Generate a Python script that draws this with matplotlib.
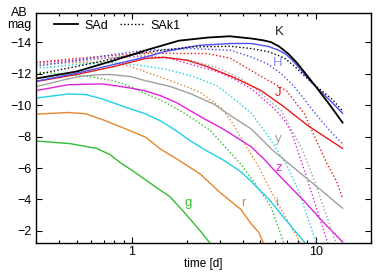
import numpy as np
import matplotlib
matplotlib.use('Agg')
import matplotlib.pyplot as plt
from matplotlib.ticker import FixedLocator, NullFormatter

plt.rcParams['font.family'] = ['Liberation Sans', 'DejaVu Sans']
plt.rcParams['font.size'] = 9

# ---- data: AB magnitude vs time [d], SAd (solid) and SAk1 (dotted) ----
g_sd_t = [0.3, 0.46, 0.64, 0.76, 0.86, 1.0, 1.2, 1.4, 1.6, 1.9, 2.36, 2.75]
g_sd_m = [-7.72, -7.55, -7.25, -6.85, -6.35, -5.85, -5.2, -4.65, -4.2, -3.25, -1.98, -1.0]
r_sd_t = [0.3, 0.45, 0.56, 0.72, 0.93, 1.19, 1.43, 1.83, 2.36, 3.04, 3.92, 4.45, 4.9, 5.3]
r_sd_m = [-9.43, -9.53, -9.45, -9.0, -8.47, -7.95, -7.2, -6.44, -5.6, -4.4, -3.36, -2.45, -1.9, -1.0]
i_sd_t = [0.3, 0.45, 0.56, 0.69, 0.93, 1.17, 1.43, 1.75, 2.08, 2.5, 3.04, 3.3, 3.92, 4.45, 4.9, 5.5, 6.75, 8.8]
i_sd_m = [-10.45, -10.71, -10.67, -10.39, -9.85, -9.47, -9.0, -8.35, -7.72, -7.15, -6.6, -6.35, -5.75, -5.15, -4.65, -4.08, -2.8, -1.2]
z_sd_t = [0.3, 0.45, 0.69, 0.93, 1.17, 1.43, 1.75, 2.08, 2.5, 3.04, 3.7, 4.45, 5.2, 5.95, 7.2, 8.7, 11.0, 14]
z_sd_m = [-10.92, -11.3, -11.35, -11.13, -10.92, -10.6, -10.15, -9.64, -9.1, -8.57, -7.95, -7.35, -6.6, -5.85, -4.85, -3.87, -2.55, -1.3]
y_sd_t = [0.3, 0.354, 0.43, 0.52, 0.63, 0.757, 0.975, 1.18, 1.62, 2.08, 2.8, 3.45, 4.45, 5.9, 8.0, 10.5, 14]
y_sd_m = [-11.18, -11.37, -11.62, -11.82, -11.92, -11.95, -11.82, -11.56, -11.18, -10.73, -10.05, -9.32, -8.49, -7.08, -5.8, -4.67, -3.44]
J_sd_t = [0.3, 0.5, 0.8, 1.0, 1.19, 1.5, 2.0, 2.5, 2.9, 3.6, 4.45, 5.05, 6.6, 9.1, 14]
J_sd_m = [-11.5, -11.95, -12.46, -12.75, -12.97, -13.04, -12.85, -12.5, -12.2, -11.75, -11.24, -10.92, -9.96, -8.68, -7.25]
H_sd_t = [0.3, 0.5, 0.8, 1.19, 1.5, 2.3, 3.5, 4.45, 5.5, 6.2, 6.8, 7.4, 8.0, 8.7, 9.5, 10.8, 12.2, 14]
H_sd_m = [-11.52, -12.03, -12.59, -13.06, -13.4, -13.8, -13.92, -13.92, -13.74, -13.52, -13.28, -12.9, -12.46, -11.95, -11.44, -10.8, -10.2, -9.48]
K_sd_t = [0.3, 0.5, 0.8, 1.19, 1.8, 2.6, 3.4, 4.45, 5.2, 5.73, 6.34, 7.07, 7.86, 8.7, 10.1, 11.9, 14]
K_sd_m = [-11.69, -12.14, -12.85, -13.49, -14.1, -14.3, -14.38, -14.24, -14.12, -14.0, -13.72, -13.28, -12.72, -12.08, -11.12, -10.03, -8.89]

g_dt_t = [0.3, 0.457, 0.63, 0.79, 1.0, 1.19, 1.5, 1.83, 2.2, 2.68, 3.04, 3.92, 4.86, 5.7, 6.75]
g_dt_m = [-12.1, -11.95, -11.76, -11.56, -11.15, -10.71, -10.2, -9.64, -9.05, -8.36, -7.65, -6.24, -4.73, -3.55, -1.12]
r_dt_t = [0.3, 0.52, 0.757, 0.95, 1.1, 1.43, 1.62, 2.0, 2.36, 3.04, 3.5, 3.92, 4.86, 5.95, 8.37]
r_dt_m = [-12.59, -12.72, -12.72, -12.5, -12.25, -11.78, -11.56, -11.15, -10.8, -9.85, -8.9, -7.93, -6.12, -4.13, -1.12]
i_dt_t = [0.3, 0.5, 0.8, 1.1, 1.5, 2.08, 2.9, 3.5, 4.45, 5.5, 7.0, 8.1, 9.8, 10.3]
i_dt_m = [-12.33, -12.59, -12.72, -12.53, -12.3, -11.88, -11.24, -10.5, -9.5, -8.04, -6.12, -4.51, -1.63, -1.0]
z_dt_t = [0.3, 0.5, 0.8, 1.19, 1.6, 2.08, 2.9, 3.6, 4.45, 4.86, 5.8, 6.75, 7.4, 8.7, 11.7]
z_dt_m = [-12.72, -12.85, -13.04, -13.1, -12.97, -12.6, -12.14, -11.65, -11.05, -10.67, -9.9, -9.06, -8.23, -5.8, -1.12]
y_dt_t = [0.3, 0.5, 0.8, 1.19, 2.08, 2.89, 3.92, 4.84, 6.49, 8.37, 9.87, 13.0]
y_dt_m = [-12.59, -12.78, -13.04, -13.17, -12.85, -12.4, -11.69, -10.92, -9.64, -7.29, -5.15, -1.12]
J_dt_t = [0.3, 0.5, 0.8, 1.19, 2.58, 3.45, 4.45, 5.73, 6.93, 8.7, 10.1, 11.5, 13.0, 14]
J_dt_m = [-12.72, -12.97, -13.17, -13.3, -13.28, -12.97, -12.2, -11.46, -10.92, -9.43, -7.72, -6.3, -5.15, -4.08]
H_dt_t = [0.3, 0.5, 0.8, 1.19, 2.08, 3.45, 4.45, 5.5, 6.49, 7.4, 8.37, 9.87, 11.7, 14]
H_dt_m = [-12.46, -12.85, -13.23, -13.49, -13.6, -13.49, -13.06, -12.6, -12.0, -11.35, -10.6, -9.51, -8.49, -7.53]
K_dt_t = [0.3, 0.5, 0.8, 1.19, 2.08, 3.45, 4.45, 5.6, 6.75, 7.7, 8.7, 10.1, 12.2, 14]
K_dt_m = [-11.95, -12.46, -12.97, -13.36, -13.7, -13.74, -13.6, -13.38, -13.0, -12.45, -11.85, -11.18, -10.41, -9.64]

bands = ['g', 'r', 'i', 'z', 'y', 'J', 'H', 'K']
colors = ['#33bb33', '#e6862e', '#22cfe4', '#dd22dd', '#a0a0a0', '#e41c1c', '#4f4fee', '#000000']
label_colors = ['#33bb33', '#e6862e', '#22cfe4', '#dd22dd', '#a0a0a0', '#e41c1c', '#8c8cf2', '#222222']
label_t = [2.03, 4.02, 6.1, 6.26, 6.26, 6.26, 6.2, 6.35]
label_m = [-3.8, -3.75, -3.8, -6.0, -7.85, -10.8, -12.65, -14.64]

solid = [(g_sd_t, g_sd_m), (r_sd_t, r_sd_m), (i_sd_t, i_sd_m), (z_sd_t, z_sd_m),
         (y_sd_t, y_sd_m), (J_sd_t, J_sd_m), (H_sd_t, H_sd_m), (K_sd_t, K_sd_m)]
dotted = [(g_dt_t, g_dt_m), (r_dt_t, r_dt_m), (i_dt_t, i_dt_m), (z_dt_t, z_dt_m),
          (y_dt_t, y_dt_m), (J_dt_t, J_dt_m), (H_dt_t, H_dt_m), (K_dt_t, K_dt_m)]

fig = plt.figure(figsize=(3.9, 2.73), dpi=100)
ax = fig.add_axes([0.0923, 0.1099, 0.859, 0.8425])

for k, b in enumerate(bands):
    lw = 1.3 if b == 'K' else 1.0
    ax.plot(dotted[k][0], dotted[k][1], color=colors[k], lw=1.0, ls=(0, (1, 1.6)))
    ax.plot(solid[k][0], solid[k][1], color=colors[k], lw=lw)
    ax.text(label_t[k], label_m[k], b, color=label_colors[k], fontsize=9.5,
            ha='center', va='center')

# legend
ax.plot([], [], color='black', lw=1.3, label='SAd')
ax.plot([], [], color='black', lw=1.0, ls=(0, (1, 1.6)), label='SAk1')
ax.legend(loc='upper left', bbox_to_anchor=(0.02, 1.02), ncol=2, frameon=False,
          handlelength=1.9, handletextpad=0.55, columnspacing=0.9, fontsize=9)

ax.set_xscale('log')
ax.set_xlim(0.3, 20)
ax.set_ylim(-1.23, -15.86)
ax.xaxis.set_major_locator(FixedLocator([1, 10]))
ax.set_xticklabels(['1', '10'])
ax.xaxis.set_minor_formatter(NullFormatter())
ax.set_yticks([-14, -12, -10, -8, -6, -4, -2])
ax.set_yticklabels(['\u221214', '\u221212', '\u221210', '\u22128', '\u22126', '\u22124', '\u22122'])
ax.tick_params(which='both', direction='in', top=True, right=True, width=0.8)
ax.tick_params(which='major', length=4.5, pad=3)
ax.tick_params(axis='x', which='major', pad=2)
ax.tick_params(which='minor', length=2.5)
for s in ax.spines.values():
    s.set_linewidth(1.0)

ax.set_xlabel('time [d]', labelpad=0, fontsize=8.5)
fig.text(0.05, 0.975, 'AB\nmag', ha='center', va='top', linespacing=1.05)

fig.savefig('out.png', dpi=100)
